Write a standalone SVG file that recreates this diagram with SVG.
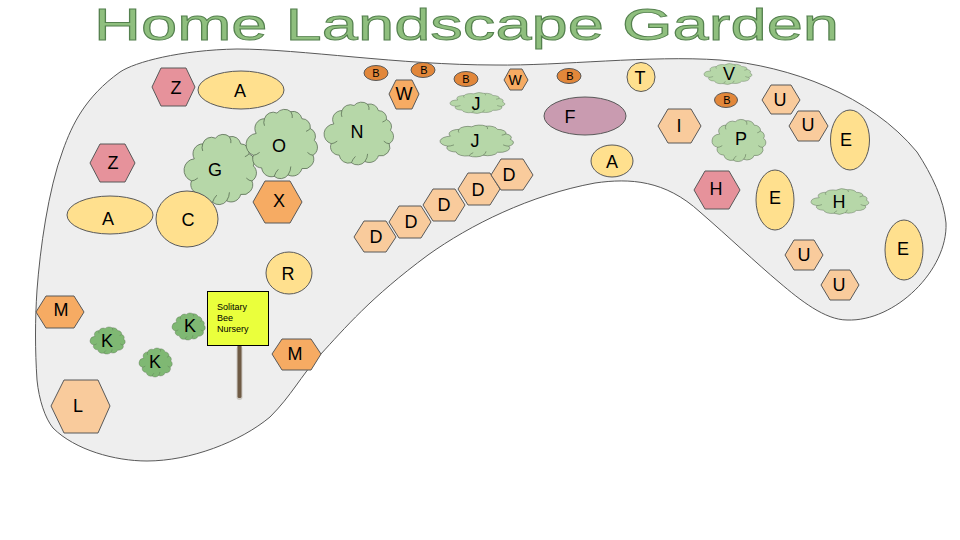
<svg xmlns="http://www.w3.org/2000/svg" xmlns:xlink="http://www.w3.org/1999/xlink" width="960" height="540" viewBox="0 0 960 540">
<style>
text{font-family:"Liberation Sans",Arial,sans-serif;fill:#000;text-anchor:middle}
.l{font-size:18px}.s{font-size:11px}
.o{stroke:#595959;stroke-width:1}
.pink{fill:#e6929b}.or{fill:#f6ab63}.pe{fill:#f9cb9c}.ye{fill:#ffe08e}.br{fill:#e2873a}.pu{fill:#c99bb0}
.gr{fill:#b6d7a8}.dg{fill:#7fb873}
.cl{stroke:#4a5c45;stroke-width:1}
.cl path{vector-effect:non-scaling-stroke}
</style>
<defs>
<g id="cloud" transform="translate(2.500,2.500) scale(.95)">
<path d="M12 35A14 14 0 0 1 24 14A13 13 0 0 1 42 6A14 14 0 0 1 62 4A13 13 0 0 1 78 14A12 12 0 0 1 90 28A12 12 0 0 1 96 45A13 13 0 0 1 94 66A14 14 0 0 1 78 85A14 14 0 0 1 58 94A14 14 0 0 1 38 96A14 14 0 0 1 20 84A13 13 0 0 1 8 66A16 16 0 0 1 12 35Z"/>
<path fill="none" d="M24 14Q22 20 24 24M62 4Q65 9 64 13M90 28Q87 31 84 32M94 66Q90 66 86 62M58 94Q62 88 62 82M38 96Q40 90 44 86M8 66Q12 66 17 62"/>
</g>
</defs>
<text id="title" x="466.500" y="40" textLength="745" lengthAdjust="spacingAndGlyphs" style="font-size:45px;fill:#8fbf7e;stroke:#55814f;stroke-width:.9">Home Landscape Garden</text>
<g id="connectors"/>
<g id="garden"><path fill="#eeeeee" stroke="#595959" stroke-width="1" d="M237 49C300 49 400 65 495 65C560 66 650 55 720 60C790 66 870 95 917 152C932 175 944 200 946 223C948 270 895 322 847 320C825 320 800 300 780 283C755 262 730 238 700 212C665 180 630 178 595 183C530 195 470 225 428 255C370 298 345 328 320 355C300 377 292 395 270 417C240 442 190 461 147 461C115 461 75 450 53 428C45 418 39 400 37 380C35 350 35 320 37 290C40 250 48 190 63 150C72 125 85 97 120 72C135 62 180 50 237 49Z"/></g>
<g id="n-z1"><polygon class="o pink" points="152,87 161,68 186,68 195,87 186,106 161,106"/><text class="l" x="176" y="94">Z</text></g>
<g id="n-a1"><ellipse class="o ye" cx="241" cy="90" rx="43" ry="19"/><text class="l" x="240" y="97">A</text></g>
<g id="n-z2"><polygon class="o pink" points="90,163 100,144 125,144 135,163 125,182 100,182"/><text class="l" x="113" y="169">Z</text></g>
<g id="n-a2"><ellipse class="o ye" cx="110" cy="215" rx="43" ry="19"/><text class="l" x="108" y="225">A</text></g>
<g id="n-g"><use href="#cloud" class="cl gr" transform="translate(184,132) scale(.74,.75)"/><text class="l" x="215" y="176">G</text></g>
<g id="n-o"><use href="#cloud" class="cl gr" transform="translate(246,107) scale(.73,.74)"/><text class="l" x="279" y="152">O</text></g>
<g id="n-n"><use href="#cloud" class="cl gr" transform="translate(324,100) scale(.71,.67)"/><text class="l" x="357" y="138">N</text></g>
<g id="n-c"><ellipse class="o ye" cx="187" cy="219" rx="31" ry="28"/><text class="l" x="188" y="226">C</text></g>
<g id="n-x"><polygon class="o or" points="253,202 265,181 290,181 302,202 290,223 265,223"/><text class="l" x="279" y="207">X</text></g>
<g id="n-r"><ellipse class="o ye" cx="289" cy="273" rx="23" ry="21"/><text class="l" x="288" y="280">R</text></g>
<g id="n-m1"><polygon class="o or" points="36,312 46,296 74,296 84,312 74,328 46,328"/><text class="l" x="61" y="316">M</text></g>
<g id="n-k1"><use href="#cloud" class="cl dg" transform="translate(90,326) scale(.36,.29)"/><text class="l" x="107" y="347">K</text></g>
<g id="n-k2"><use href="#cloud" class="cl dg" transform="translate(139,347) scale(.34,.31)"/><text class="l" x="155" y="368">K</text></g>
<g id="n-k3"><use href="#cloud" class="cl dg" transform="translate(172,312) scale(.34,.29)"/><text class="l" x="190" y="332">K</text></g>
<g id="n-sign">
<rect x="236.500" y="346" width="6" height="54" rx="3" fill="#b9b3a8" opacity=".6"/>
<rect x="237.500" y="345" width="4" height="53" rx="1.500" fill="#6f5b45"/>
<rect x="207.500" y="291.500" width="61" height="54" fill="#eaff3c" stroke="#000"/>
<g style="font-size:9px"><text x="217" y="310" style="text-anchor:start">Solitary</text><text x="217" y="321" style="text-anchor:start">Bee</text><text x="217" y="332" style="text-anchor:start">Nursery</text></g>
</g>
<g id="n-m2"><polygon class="o or" points="272,354 282,339 311,339 321,354 311,370 282,370"/><text class="l" x="295" y="360">M</text></g>
<g id="n-l"><polygon class="o pe" points="51,406 64,380 98,380 110,406 98,433 64,433"/><text class="l" x="78" y="412">L</text></g>
<g id="n-b1"><ellipse class="o br" cx="376" cy="73" rx="12" ry="7.500"/><text class="s" x="376" y="77">B</text></g>
<g id="n-b2"><ellipse class="o br" cx="423" cy="70" rx="12" ry="7.500"/><text class="s" x="424" y="74">B</text></g>
<g id="n-b3"><ellipse class="o br" cx="466" cy="79" rx="12" ry="7.500"/><text class="s" x="466" y="83">B</text></g>
<g id="n-b4"><ellipse class="o br" cx="569" cy="76" rx="12" ry="7.500"/><text class="s" x="570" y="80">B</text></g>
<g id="n-b5"><ellipse class="o br" cx="726" cy="100" rx="11.500" ry="7.500"/><text class="s" x="727" y="104">B</text></g>
<g id="n-w1"><polygon class="o or" points="389,94 396,80 412,80 419,94 412,109 396,109"/><text class="l" x="404" y="100">W</text></g>
<g id="n-w2"><polygon class="o or" points="504,80 510,69 522,69 528,80 522,90 510,90"/><text x="515" y="85" style="font-size:14px">W</text></g>
<g id="n-j1"><use href="#cloud" class="cl gr" transform="translate(450,92) scale(.56,.22)"/><text class="l" x="476" y="110">J</text></g>
<g id="n-j2"><use href="#cloud" class="cl gr" transform="translate(440,124) scale(.75,.34)"/><text class="l" x="475" y="147">J</text></g>
<g id="n-f"><ellipse class="pu" stroke="#595959" cx="585" cy="116" rx="41" ry="19"/><text class="l" x="570" y="123">F</text></g>
<g id="n-t"><ellipse class="o ye" cx="641" cy="77" rx="14" ry="14.500"/><text class="l" x="640" y="84">T</text></g>
<g id="n-a3"><ellipse class="o ye" cx="612" cy="161" rx="21" ry="16"/><text class="l" x="612" y="168">A</text></g>
<g id="n-d1"><polygon class="o pe" points="354,237 364,221 386,221 396,237 386,252 364,252"/><text class="l" x="376" y="243">D</text></g>
<g id="n-d2"><polygon class="o pe" points="389,222 399,206 421,206 431,222 421,238 399,238"/><text class="l" x="411" y="228">D</text></g>
<g id="n-d3"><polygon class="o pe" points="423,205 433,189 455,189 465,205 455,221 433,221"/><text class="l" x="444" y="211">D</text></g>
<g id="n-d4"><polygon class="o pe" points="458,189 468,173 490,173 500,189 490,205 468,205"/><text class="l" x="478" y="196">D</text></g>
<g id="n-d5"><polygon class="o pe" points="491,175 501,159 523,159 533,175 523,190 501,190"/><text class="l" x="509" y="181">D</text></g>
<g id="n-v"><use href="#cloud" class="cl gr" transform="translate(704,63) scale(.49,.22)"/><text class="l" x="729" y="80">V</text></g>
<g id="n-i"><polygon class="o pe" points="658,126 668,109 691,109 701,126 691,143 668,143"/><text class="l" x="679" y="132">I</text></g>
<g id="n-p"><use href="#cloud" class="cl gr" transform="translate(712,118) scale(.55,.45)"/><text class="l" x="741" y="145">P</text></g>
<g id="n-u1"><polygon class="o pe" points="762,100 771,85 791,85 800,100 791,114 771,114"/><text class="l" x="780" y="106">U</text></g>
<g id="n-u2"><polygon class="o pe" points="789,126 798,111 819,111 828,126 819,141 798,141"/><text class="l" x="808" y="131">U</text></g>
<g id="n-e1"><ellipse class="o ye" cx="850" cy="140" rx="19.500" ry="30"/><text class="l" x="846" y="146">E</text></g>
<g id="n-h1"><polygon class="o pink" points="694,190 705,171 729,171 740,190 729,209 705,209"/><text class="l" x="716" y="195">H</text></g>
<g id="n-e2"><ellipse class="o ye" cx="775" cy="200" rx="19" ry="30"/><text class="l" x="775" y="204">E</text></g>
<g id="n-h2"><use href="#cloud" class="cl gr" transform="translate(811,188) scale(.59,.27)"/><text class="l" x="839" y="208">H</text></g>
<g id="n-e3"><ellipse class="o ye" cx="904" cy="250" rx="19" ry="30"/><text class="l" x="903" y="255">E</text></g>
<g id="n-u3"><polygon class="o pe" points="785,255 794,240 814,240 823,255 814,270 794,270"/><text class="l" x="804" y="261">U</text></g>
<g id="n-u4"><polygon class="o pe" points="821,285 830,270 850,270 859,285 850,300 830,300"/><text class="l" x="839" y="291">U</text></g>
</svg>
